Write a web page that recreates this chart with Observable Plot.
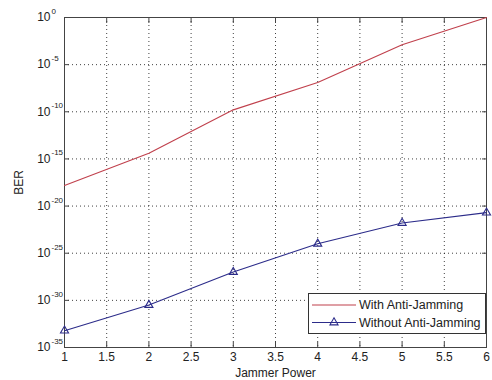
<!DOCTYPE html>
<html>
<head>
<meta charset="utf-8">
<script src="https://cdn.jsdelivr.net/npm/d3@7"></script>
<script src="https://cdn.jsdelivr.net/npm/@observablehq/plot@0.6"></script>
<style>
  html, body { margin: 0; padding: 0; background: #fff; }
  #wrap { position: relative; width: 492px; height: 380px; }
  #legend { position: absolute; left: 308px; top: 293px; width: 176px; height: 39px;
            border: 1px solid #333; background: #fff; }
  #legend svg { display: block; }
</style>
</head>
<body>
<div id="wrap"></div>
<script>
// ---- data ----
const jammerPower = [1, 2, 3, 4, 5, 6];
const berWithAntiJamming = [1.5e-18, 4e-15, 1.6e-10, 1.3e-7, 1.3e-3, 1];
const berWithoutAntiJamming = [6e-34, 3.2e-31, 1e-27, 1e-24, 1.6e-22, 2e-21];
const seriesNames = ["With Anti-Jamming", "Without Anti-Jamming"];
const xTicks = [1, 1.5, 2, 2.5, 3, 3.5, 4, 4.5, 5, 5.5, 6];
const yTicks = [1e-35, 1e-30, 1e-25, 1e-20, 1e-15, 1e-10, 1e-5, 1];
const xLabel = "Jammer Power";
const yLabel = "BER";

const redColor = "#c0404c";
const blueColor = "#2c2c8a";

const withData = jammerPower.map((x, i) => ({x, y: berWithAntiJamming[i]}));
const withoutData = jammerPower.map((x, i) => ({x, y: berWithoutAntiJamming[i]}));
const expo = d => String(Math.round(Math.log10(d)));

const grid = {stroke: "#000", strokeOpacity: 0.75, strokeDasharray: "1,3", strokeWidth: 1};
const font = "'Liberation Sans', Arial, Helvetica, sans-serif";

const chart = Plot.plot({
  width: 492,
  height: 380,
  marginLeft: 64,
  marginRight: 6,
  marginTop: 17,
  marginBottom: 33,
  style: {fontFamily: font, fontSize: "12px", color: "#222", background: "#fff", overflow: "visible"},
  x: {domain: [1, 6]},
  y: {type: "log", domain: [1e-35, 1]},
  marks: [
    Plot.gridX(xTicks, grid),
    Plot.gridY(yTicks, grid),
    Plot.frame({stroke: "#444"}),
    Plot.axisX(xTicks, {anchor: "bottom", tickSize: -5, tickPadding: 10, stroke: "#444",
      tickFormat: d => String(d), fontSize: 12,
      label: xLabel, labelAnchor: "center", labelOffset: 29, labelArrow: "none"}),
    Plot.axisX(xTicks, {anchor: "top", tickSize: -5, stroke: "#444", tickFormat: () => "", label: null}),
    Plot.axisY(yTicks, {anchor: "left", tickSize: -5, tickPadding: 19, stroke: "#444",
      tickFormat: () => "10", fontSize: 12,
      label: yLabel, labelAnchor: "center", labelOffset: 50, labelArrow: "none"}),
    Plot.axisY(yTicks, {anchor: "left", tickSize: 0, tickPadding: 13, textAnchor: "start",
      dy: -6, fontSize: 8, tickFormat: expo, label: null}),
    Plot.axisY(yTicks, {anchor: "right", tickSize: -5, stroke: "#444", tickFormat: () => "", label: null}),
    Plot.line(withData, {x: "x", y: "y", stroke: redColor, strokeWidth: 1.1}),
    Plot.line(withoutData, {x: "x", y: "y", stroke: blueColor, strokeWidth: 1.1}),
    Plot.dot(withoutData, {x: "x", y: "y", symbol: "triangle", r: 3, stroke: blueColor, fill: "none", strokeWidth: 1.1})
  ]
});

const wrap = document.getElementById("wrap");
wrap.appendChild(chart);

// legend overlay
const legend = document.createElement("div");
legend.id = "legend";
const ns = "http://www.w3.org/2000/svg";
const lsvg = document.createElementNS(ns, "svg");
lsvg.setAttribute("width", 176);
lsvg.setAttribute("height", 39);
const colors = [redColor, blueColor];
seriesNames.forEach((name, i) => {
  const yy = 11 + i * 17.5;
  const ln = document.createElementNS(ns, "line");
  ln.setAttribute("x1", 3); ln.setAttribute("x2", 47);
  ln.setAttribute("y1", yy); ln.setAttribute("y2", yy);
  ln.setAttribute("stroke", colors[i]); ln.setAttribute("stroke-width", 1.1);
  lsvg.appendChild(ln);
  if (i === 1) {
    const tri = document.createElementNS(ns, "path");
    tri.setAttribute("d", d3.symbol(d3.symbolTriangle, 28.3)());
    tri.setAttribute("transform", `translate(25,${yy})`);
    tri.setAttribute("fill", "none");
    tri.setAttribute("stroke", colors[i]);
    tri.setAttribute("stroke-width", 1.1);
    lsvg.appendChild(tri);
  }
  const tx = document.createElementNS(ns, "text");
  tx.setAttribute("x", 50); tx.setAttribute("y", yy);
  tx.setAttribute("dy", "0.35em");
  tx.setAttribute("font-family", font);
  tx.setAttribute("font-size", "12.5px");
  tx.setAttribute("fill", "#222");
  tx.textContent = name;
  lsvg.appendChild(tx);
});
legend.appendChild(lsvg);
wrap.appendChild(legend);
</script>
</body>
</html>
